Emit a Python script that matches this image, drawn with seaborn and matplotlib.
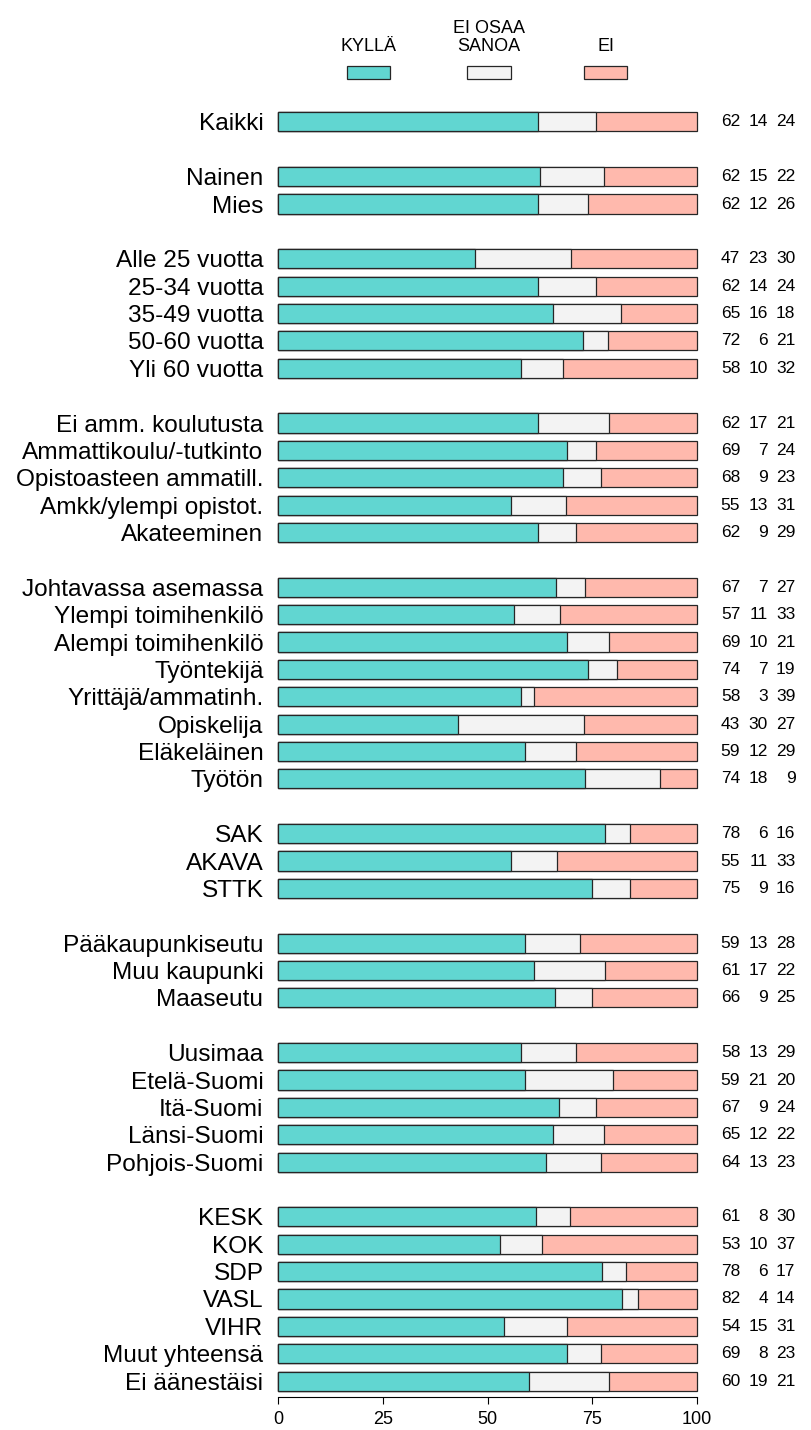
import matplotlib
matplotlib.use('Agg')
import matplotlib.pyplot as plt
import seaborn as sns
import pandas as pd
from matplotlib.patches import Rectangle

# Ryhmät (rivit ylhäältä alas)
ryhmat = ['Kaikki',
          'Nainen', 'Mies',
          'Alle 25 vuotta', '25-34 vuotta', '35-49 vuotta', '50-60 vuotta', 'Yli 60 vuotta',
          'Ei amm. koulutusta', 'Ammattikoulu/-tutkinto', 'Opistoasteen ammatill.',
          'Amkk/ylempi opistot.', 'Akateeminen',
          'Johtavassa asemassa', 'Ylempi toimihenkilö', 'Alempi toimihenkilö', 'Työntekijä',
          'Yrittäjä/ammatinh.', 'Opiskelija', 'Eläkeläinen', 'Työtön',
          'SAK', 'AKAVA', 'STTK',
          'Pääkaupunkiseutu', 'Muu kaupunki', 'Maaseutu',
          'Uusimaa', 'Etelä-Suomi', 'Itä-Suomi', 'Länsi-Suomi', 'Pohjois-Suomi',
          'KESK', 'KOK', 'SDP', 'VASL', 'VIHR', 'Muut yhteensä', 'Ei äänestäisi']
# Ryhmien koot (väli jokaisen ryhmän jälkeen)
ryhmakoot = [1, 2, 5, 5, 8, 3, 3, 5, 7]

kylla = [62, 62, 62, 47, 62, 65, 72, 58, 62, 69, 68, 55, 62, 67, 57, 69, 74, 58, 43, 59, 74,
         78, 55, 75, 59, 61, 66, 58, 59, 67, 65, 64, 61, 53, 78, 82, 54, 69, 60]
eos = [14, 15, 12, 23, 14, 16, 6, 10, 17, 7, 9, 13, 9, 7, 11, 10, 7, 3, 30, 12, 18,
       6, 11, 9, 13, 17, 9, 13, 21, 9, 12, 13, 8, 10, 6, 4, 15, 8, 19]
ei = [24, 22, 26, 30, 24, 18, 21, 32, 21, 24, 23, 31, 29, 27, 33, 21, 19, 39, 27, 29, 9,
      16, 33, 16, 28, 22, 25, 29, 20, 24, 22, 23, 30, 37, 17, 14, 31, 23, 21]

selitteet = ['KYLLÄ', 'EI OSAA\nSANOA', 'EI']
varit = ['#61D6D1', '#F3F3F3', '#FFB9AD']
reuna = '#262626'

sns.set_style('white')
plt.rcParams['font.family'] = ['Liberation Sans', 'DejaVu Sans']
plt.rcParams['text.color'] = 'black'

# DataFrame ja kumulatiiviset osuudet
df = pd.DataFrame({'ryhma': ryhmat, 'kylla': kylla, 'eos': eos, 'ei': ei})
summa = df['kylla'] + df['eos'] + df['ei']
df['loppu_k'] = df['kylla'] / summa * 100
df['loppu_e'] = (df['kylla'] + df['eos']) / summa * 100
df['loppu_n'] = (df['kylla'] + df['eos'] + df['ei']) / summa * 100

# Järjestys, johon ryhmien väliin lisätään tyhjät rivit
jarjestys = []
i = 0
for g, koko in enumerate(ryhmakoot):
    if g > 0:
        jarjestys.append(' ' * g)
    jarjestys.extend(ryhmat[i:i + koko])
    i += koko

fig = plt.figure(figsize=(8.12, 14.30), dpi=100)
ax = fig.add_axes([0.3424, 0.02308, 0.5160, 0.90699])

# Pinotut palkit: piirretään kokonaispituus ensin, sitten lyhyemmät päälle
for sarake, vari in zip(['loppu_n', 'loppu_e', 'loppu_k'], varit[::-1]):
    sns.barplot(data=df, x=sarake, y='ryhma', order=jarjestys, orient='h',
                color=vari, saturation=1, edgecolor=reuna, linewidth=0.9,
                width=0.7, errorbar=None, ax=ax)

for p in ax.patches:
    p.set_clip_on(False)

ax.set_xlim(0, 100)
ax.set_ylim(46.58, -0.80)
ax.set_xticks([0, 25, 50, 75, 100])
ax.set_xlabel('')
ax.set_ylabel('')
sns.despine(ax=ax, left=True)
ax.spines['bottom'].set_bounds(0, 100)
ax.spines['bottom'].set_linewidth(0.8)
ax.spines['bottom'].set_color('black')
ax.tick_params(axis='y', length=0, pad=10.5, labelsize=17.6, labelcolor='black')
ax.tick_params(axis='x', bottom=True, length=5, width=0.8, pad=5, labelsize=13,
               color='black', labelcolor='black')

# Prosenttiluvut oikealla
for _, rivi in df.iterrows():
    y = jarjestys.index(rivi['ryhma'])
    for xpos, arvo in zip([110.3, 116.9, 123.5], [rivi['kylla'], rivi['eos'], rivi['ei']]):
        ax.text(xpos, y, str(int(arvo)), ha='right', va='center', fontsize=12.5,
                color='black', clip_on=False)

# Selite ylhäällä
sel_x = [0.4538, 0.6022, 0.7457]
for cx, teksti, vari in zip(sel_x, selitteet, varit):
    w, h = 0.053, 0.0091
    fig.add_artist(Rectangle((cx - w / 2, 0.9493 - h / 2), w, h, transform=fig.transFigure,
                             facecolor=vari, edgecolor=reuna, linewidth=0.9))
    fig.text(cx, 0.9615, teksti, ha='center', va='bottom', fontsize=13, color='black',
             multialignment='center', linespacing=1.05)

fig.savefig('out.png', dpi=100)
